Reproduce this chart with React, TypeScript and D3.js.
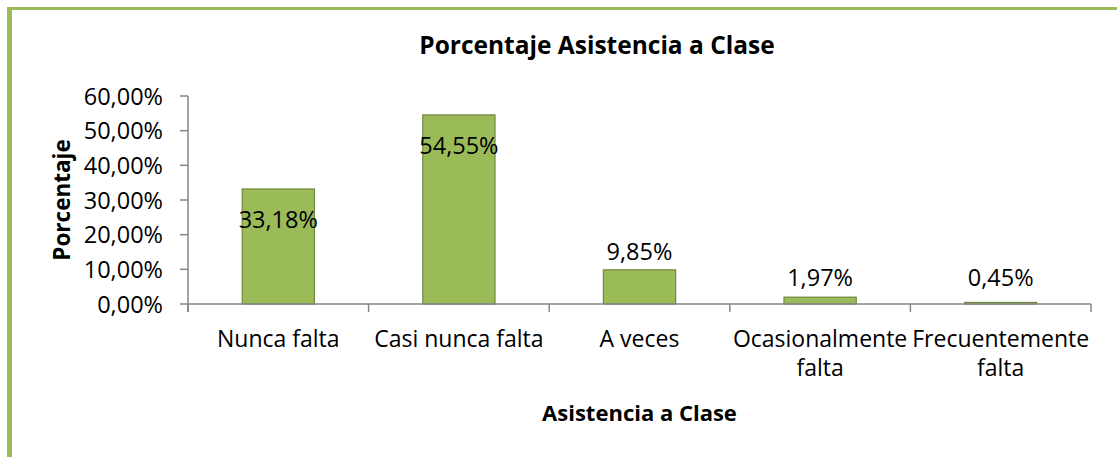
import React from "react";
import * as d3 from "d3";

const categories: string[][] = [
  ["Nunca falta"],
  ["Casi nunca falta"],
  ["A veces"],
  ["Ocasionalmente", "falta"],
  ["Frecuentemente", "falta"],
];
const values: number[] = [33.18, 54.55, 9.85, 1.97, 0.45];
const yTicks: number[] = [0, 10, 20, 30, 40, 50, 60];
const title = "Porcentaje Asistencia a Clase";
const xTitle = "Asistencia a Clase";
const yTitle = "Porcentaje";

const W = 1117;
const H = 457;
const FONT = "'Open Sans', sans-serif";
const GREEN = "#9BBB59";
const GREEN_DARK = "#71893F";
const AXIS = "#868686";

const fmt = (v: number) => v.toFixed(2).replace(".", ",") + "%";

export default function App() {
  const left = 188;
  const right = 1091;
  const top = 96;
  const bottom = 304;

  const x = d3
    .scaleBand<number>()
    .domain(values.map((_, i) => i))
    .range([left, right])
    .paddingInner(0.6)
    .paddingOuter(0.3);
  const y = d3.scaleLinear().domain([0, 60]).range([bottom, top]);

  const boundaries = d3.range(categories.length + 1).map((i) => left + i * ((right - left) / categories.length));

  return (
    <svg
      width={W}
      height={H}
      style={{ position: "absolute", left: 0, top: 0, background: "#fff" }}
      fontFamily={FONT}
    >
      <rect x={0} y={0} width={W} height={H} fill="#fff" />
      {/* frame */}
      <rect x={7} y={7} width={W - 7} height={3} fill={GREEN} />
      <rect x={7} y={7} width={5} height={H - 7} fill={GREEN} />

      <text x={597} y={54} textAnchor="middle" fontSize={24.5} fontWeight="bold" fill="#000">
        {title}
      </text>

      {/* y axis */}
      <line x1={left} x2={left} y1={top} y2={bottom + 8} stroke={AXIS} strokeWidth={1.5} />
      {yTicks.map((t) => (
        <g key={t}>
          <line x1={left - 8} x2={left} y1={y(t)} y2={y(t)} stroke={AXIS} strokeWidth={1.5} />
          <text x={163} y={y(t) + 8.5} textAnchor="end" fontSize={23.5} fill="#000">
            {fmt(t)}
          </text>
        </g>
      ))}

      {/* bars */}
      {values.map((v, i) => (
        <rect
          key={i}
          x={x(i)!}
          y={y(v)}
          width={x.bandwidth()}
          height={bottom - y(v)}
          fill={GREEN}
          stroke={GREEN_DARK}
          strokeWidth={1.2}
        />
      ))}

      {/* x axis */}
      <line x1={left} x2={right} y1={bottom} y2={bottom} stroke={AXIS} strokeWidth={1.5} />
      {boundaries.map((b, i) => (
        <line key={i} x1={b} x2={b} y1={bottom} y2={bottom + 8} stroke={AXIS} strokeWidth={1.5} />
      ))}

      {/* data labels */}
      {values.map((v, i) => {
        const cx = x(i)! + x.bandwidth() / 2;
        const ly = v > 20 ? y(v) + 39 : Math.min(y(v) - 10, bottom - 18);
        return (
          <text key={i} x={cx} y={ly} textAnchor="middle" fontSize={23.5} fill="#000">
            {fmt(v)}
          </text>
        );
      })}

      {/* category labels */}
      {categories.map((lines, i) => {
        const cx = x(i)! + x.bandwidth() / 2;
        return (
          <text key={i} x={cx} y={347} textAnchor="middle" fontSize={23} fill="#000">
            {lines.map((l, j) => (
              <tspan key={j} x={cx} dy={j === 0 ? 0 : 29}>
                {l}
              </tspan>
            ))}
          </text>
        );
      })}

      <text x={(left + right) / 2} y={421} textAnchor="middle" fontSize={22} fontWeight="bold" fill="#000">
        {xTitle}
      </text>
      <text
        transform={`translate(70, ${(top + bottom) / 2}) rotate(-90)`}
        textAnchor="middle"
        fontSize={22.5}
        fontWeight="bold"
        fill="#000"
      >
        {yTitle}
      </text>
    </svg>
  );
}
